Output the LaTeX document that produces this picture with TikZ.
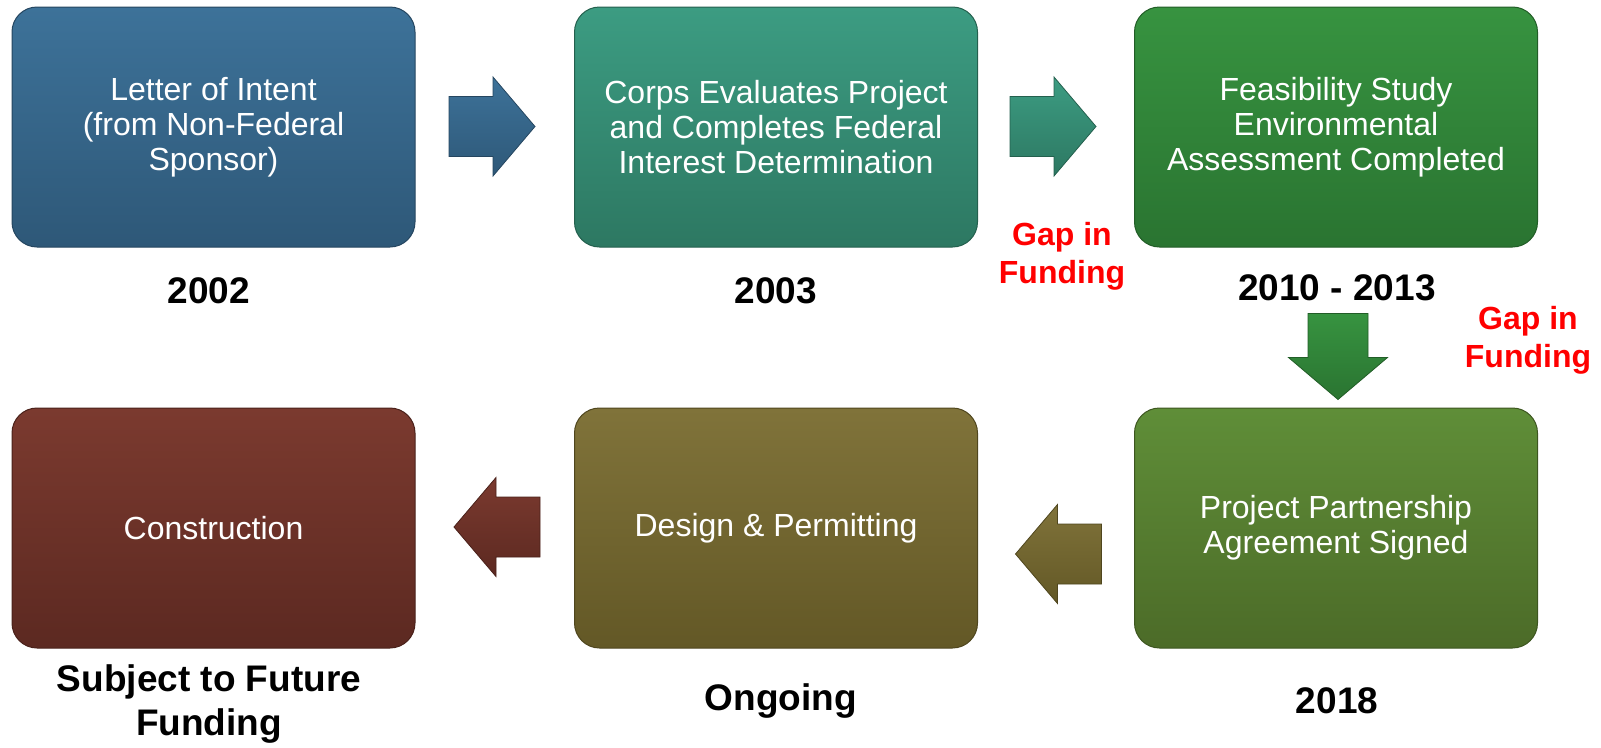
\documentclass[tikz,border=0pt]{standalone}
\usepackage{fontspec}
\setmainfont{Liberation Sans}
\usepackage{tikz}
\usetikzlibrary{calc}
\definecolor{blueT}{RGB}{61,114,153}
\definecolor{blueB}{RGB}{46,88,120}
\definecolor{tealT}{RGB}{60,156,130}
\definecolor{tealB}{RGB}{45,120,98}
\definecolor{greenT}{RGB}{55,147,64}
\definecolor{greenB}{RGB}{42,116,49}
\definecolor{lgreenT}{RGB}{95,142,56}
\definecolor{lgreenB}{RGB}{76,107,40}
\definecolor{oliveT}{RGB}{128,115,58}
\definecolor{oliveB}{RGB}{99,88,38}
\definecolor{brownT}{RGB}{123,58,47}
\definecolor{brownB}{RGB}{92,41,33}
\definecolor{gapred}{RGB}{255,0,0}

\tikzset{
stagebox/.style={rounded corners=25pt, minimum width=403pt, minimum height=240pt, align=center,
  text=white, font=\fontsize{32}{35}\selectfont, line width=1pt},
yearlab/.style={align=center, font=\bfseries\fontsize{37}{44}\selectfont},
gaplab/.style={align=center, text=gapred, font=\bfseries\fontsize{32}{38}\selectfont}
}
% block arrow: centre, angle, top colour, bottom colour
\newcommand{\blockarrow}[4]{%
\shade[top color=#3, bottom color=#4, draw=#4!80!black, line width=0.8pt, shift={(#1)}, rotate=#2]
  (-43,-30) -- (1,-30) -- (1,-49.5) -- (43,0) -- (1,49.5) -- (1,30) -- (-43,30) -- cycle;}

\begin{document}
\begin{tikzpicture}[x=1pt,y=-1pt]
\useasboundingbox (0,0) rectangle (1601,747);

\node[stagebox, top color=blueT, bottom color=blueB, draw=blueB!80!black] (loi) at (213.5,127) {Letter of Intent\\(from Non-Federal\\Sponsor)};
\node[stagebox, top color=tealT, bottom color=tealB, draw=tealB!80!black] (corps) at (776,127) {Corps Evaluates Project\\and Completes Federal\\Interest Determination};
\node[stagebox, top color=greenT, bottom color=greenB, draw=greenB!80!black] (feas) at (1336,127) {Feasibility Study\\Environmental\\Assessment Completed};
\node[stagebox, top color=lgreenT, bottom color=lgreenB, draw=lgreenB!80!black] (ppa) at (1336,528) {Project Partnership\\Agreement Signed};
\node[stagebox, top color=oliveT, bottom color=oliveB, draw=oliveB!80!black] (design) at (776,528) {Design \& Permitting};
\node[stagebox, top color=brownT, bottom color=brownB, draw=brownB!80!black] (constr) at (213.5,528) {Construction};

\node[yearlab] (y02) at (209,291) {2002};
\node[yearlab] (y03) at (776,291) {2003};
\node[yearlab] (y10) at (1337,288) {2010 - 2013};
\node[yearlab] (y18) at (1337,701) {2018};
\node[yearlab] (ongo) at (781,701) {Ongoing};
\node[yearlab] (future) at (209,704) {Subject to Future\\Funding};

\node[gaplab] (gap1) at (1062,256) {Gap in\\Funding};
\node[gaplab] (gap2) at (1528,340) {Gap in\\Funding};

\blockarrow{492,126.5}{0}{blueT}{blueB}
\blockarrow{1053,126.5}{0}{tealT}{tealB}
\blockarrow{1338,356.5}{-90}{greenT}{greenB}
\blockarrow{1058.5,554}{180}{oliveT}{oliveB}
\blockarrow{497,527}{180}{brownT}{brownB}

\end{tikzpicture}
\end{document}
